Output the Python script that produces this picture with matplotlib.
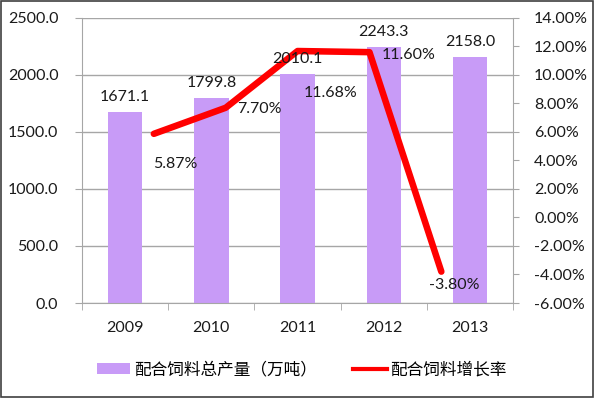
import matplotlib
matplotlib.use("Agg")
import matplotlib.pyplot as plt
from matplotlib.patches import Rectangle
from matplotlib.lines import Line2D
from matplotlib.patches import Patch
from matplotlib.ticker import FuncFormatter, MultipleLocator

plt.rcParams['font.family'] = ['Lato', 'Noto Sans CJK SC', 'DejaVu Sans']

years = ['2009', '2010', '2011', '2012', '2013']
output = [1671.1, 1799.8, 2010.1, 2243.3, 2158.0]
growth = [5.87, 7.70, 11.68, 11.60, -3.80]
bar_name = '配合饲料总产量（万吨）'
line_name = '配合饲料增长率'

# label offsets in pixels (style)
growth_offsets = [(21, -30), (34, -1), (33, -42), (39, -3), (13, -13)]

bar_color = '#C89BF7'
line_color = '#FF0000'
grid_color = '#A6A6A6'
text_color = '#1a1a1a'
fs = 11.5

fig = plt.figure(figsize=(5.94, 3.99), dpi=100)
fig.patch.set_facecolor('white')
ax = fig.add_axes([0.138, 0.2406, 0.726, 0.7144])

x = list(range(len(years)))
ax.bar(x, output, width=0.4, color=bar_color, zorder=2)
ax.set_xlim(-0.5, len(years) - 0.5)
ax.set_ylim(0, 2500)
ax.yaxis.set_major_locator(MultipleLocator(500))
ax.yaxis.set_major_formatter(FuncFormatter(lambda v, p: f'{v:.1f}'))
ax.grid(axis='y', color=grid_color, linewidth=1, zorder=0)
ax.set_axisbelow(True)
ax.set_xticks(x)
ax.set_xticklabels(years)
ax.set_xticks([i + 0.5 for i in range(-1, len(years))], minor=True)
ax.tick_params(axis='x', which='major', length=0, pad=13, labelsize=fs, colors=text_color)
ax.tick_params(axis='x', which='minor', length=5, color=grid_color)
ax.tick_params(axis='y', length=5, color=grid_color, pad=12, labelsize=fs, labelcolor=text_color)
for s in ['top', 'right']:
    ax.spines[s].set_visible(False)
for s in ['left', 'bottom']:
    ax.spines[s].set_color(grid_color)

axr = ax.twinx()
ax2 = axr.twiny()
ax2.set_xlim(-1, len(years))
ax2.set_ylim(-6, 14)
ax2.plot(x, growth, color=line_color, linewidth=4.7, solid_joinstyle='round',
         solid_capstyle='round', zorder=5)
ax2.xaxis.set_visible(False)
for s in ax2.spines.values():
    s.set_visible(False)

axr.set_ylim(-6, 14)
axr.yaxis.set_major_locator(MultipleLocator(2))
axr.yaxis.set_major_formatter(FuncFormatter(lambda v, p: f'{v:.2f}%'))
axr.tick_params(axis='y', length=4, color=grid_color, pad=11, labelsize=fs, labelcolor=text_color)
for s in ['top', 'left', 'bottom']:
    axr.spines[s].set_visible(False)
axr.spines['right'].set_color(grid_color)

# bar value labels drawn on top of the line
for xi, v in zip(x, output):
    ax2.annotate(f'{v:.1f}', (xi, v), xycoords=ax.transData, xytext=(0, 8),
                 textcoords='offset pixels', ha='center', va='bottom',
                 fontsize=fs, color=text_color, zorder=7)

for xi, g, (dx, dy) in zip(x, growth, growth_offsets):
    ax2.annotate(f'{g:.2f}%', (xi, g), xytext=(dx, dy), textcoords='offset pixels',
                 ha='center', va='center', fontsize=fs, color=text_color, zorder=6)

handles = [Patch(facecolor=bar_color, edgecolor='none'),
           Line2D([0], [0], color=line_color, linewidth=3)]
fig.legend(handles, [bar_name, line_name], loc='center', bbox_to_anchor=(0.508, 0.073),
           ncol=2, frameon=False, handlelength=2.0, handleheight=0.6,
           handletextpad=0.2, columnspacing=2.2,
           prop={'family': ['Noto Sans CJK SC', 'DejaVu Sans'], 'size': 12})

fig.patches.append(Rectangle((0.002, 0.004), 0.996, 0.994, transform=fig.transFigure,
                             fill=False, edgecolor='#404040', linewidth=1.2))

fig.savefig('out.png', dpi=100)
